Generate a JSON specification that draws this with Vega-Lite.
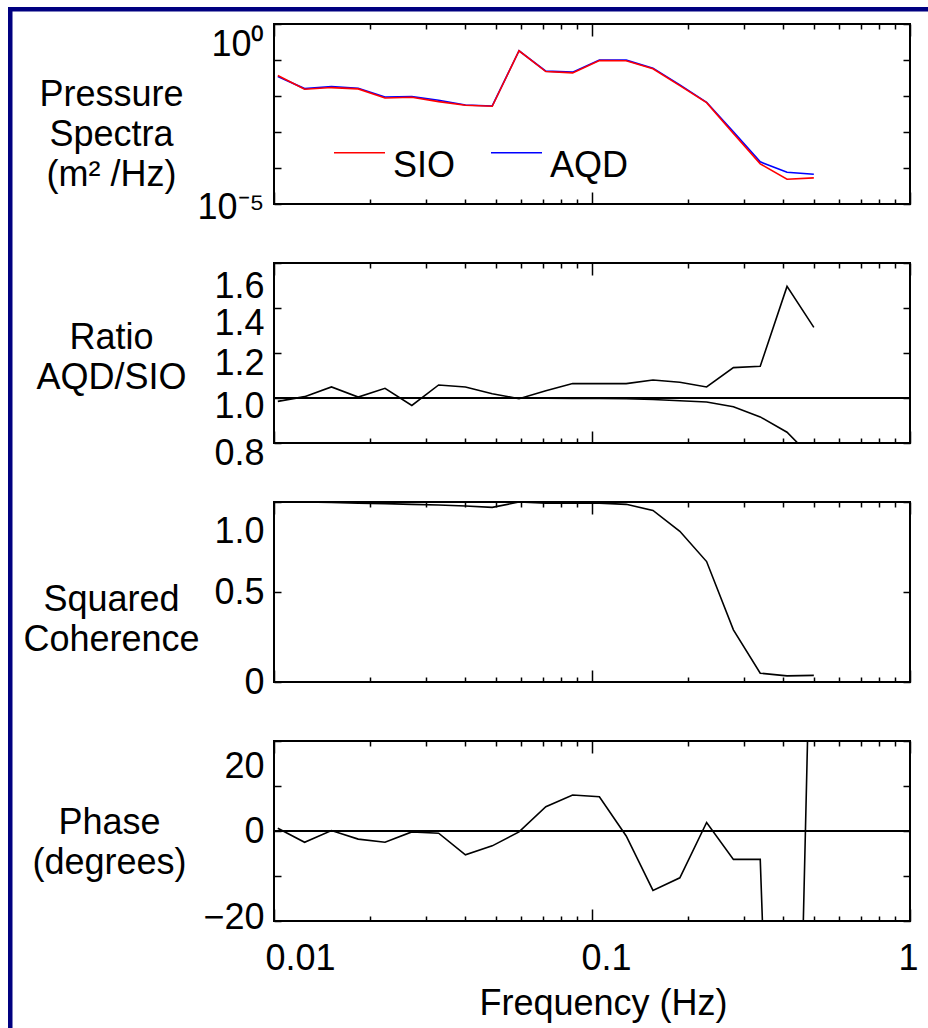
{
  "$schema": "https://vega.github.io/schema/vega-lite/v6.json",
  "padding": {"left": 8, "top": 7, "right": 0, "bottom": 0},
  "background": "white",
  "config": {
    "font": "Liberation Sans",
    "view": {"stroke": "black", "strokeWidth": 2},
    "axis": {
      "domain": false, "grid": false, "tickColor": "black", "tickWidth": 1.5,
      "labelFont": "Liberation Sans", "labelFontSize": 36, "labelColor": "black",
      "titleFont": "Liberation Sans", "titleFontSize": 36, "titleColor": "black", "titleFontWeight": "normal",
      "labelOverlap": false, "labelBound": false, "labelFlush": false
    }
  },
  "datasets": {
    "d": [
      {"f": 0.01028, "SIO": 0.03707, "AQD": 0.03475, "ratio": 0.985, "ref": 1.0, "coh": 1.0, "phase": 0.6},
      {"f": 0.01248, "SIO": 0.01542, "AQD": 0.01607, "ratio": 1.006, "ref": 1.0, "coh": 1.0, "phase": -2.5},
      {"f": 0.01516, "SIO": 0.01714, "AQD": 0.01828, "ratio": 1.049, "ref": 1.0, "coh": 0.998, "phase": 0.1},
      {"f": 0.0184, "SIO": 0.01574, "AQD": 0.01644, "ratio": 1.004, "ref": 1.0, "coh": 0.994, "phase": -1.8},
      {"f": 0.02234, "SIO": 0.008831, "AQD": 0.009419, "ratio": 1.043, "ref": 1.0, "coh": 0.991, "phase": -2.5},
      {"f": 0.02713, "SIO": 0.009226, "AQD": 0.009616, "ratio": 0.967, "ref": 1.0, "coh": 0.987, "phase": -0.2},
      {"f": 0.03294, "SIO": 0.006982, "AQD": 0.007603, "ratio": 1.058, "ref": 1.0, "coh": 0.983, "phase": -0.5},
      {"f": 0.03999, "SIO": 0.005521, "AQD": 0.005636, "ratio": 1.049, "ref": 1.0, "coh": 0.978, "phase": -5.3},
      {"f": 0.04856, "SIO": 0.005176, "AQD": 0.005284, "ratio": 1.019, "ref": 1.0, "coh": 0.97, "phase": -3.3},
      {"f": 0.05896, "SIO": 0.1807, "AQD": 0.1807, "ratio": 0.997, "ref": 1.0, "coh": 1.0, "phase": -0.2},
      {"f": 0.07159, "SIO": 0.04786, "AQD": 0.04898, "ratio": 1.032, "ref": 0.999, "coh": 0.994, "phase": 5.4},
      {"f": 0.08692, "SIO": 0.04395, "AQD": 0.04592, "ratio": 1.064, "ref": 0.998, "coh": 0.994, "phase": 8.0},
      {"f": 0.1055, "SIO": 0.09705, "AQD": 0.09908, "ratio": 1.064, "ref": 0.998, "coh": 0.994, "phase": 7.6},
      {"f": 0.1281, "SIO": 0.09506, "AQD": 0.09908, "ratio": 1.064, "ref": 0.997, "coh": 0.987, "phase": -1.1},
      {"f": 0.1555, "SIO": 0.05689, "AQD": 0.05929, "ratio": 1.08, "ref": 0.993, "coh": 0.953, "phase": -13.2},
      {"f": 0.1889, "SIO": 0.0195, "AQD": 0.02037, "ratio": 1.07, "ref": 0.988, "coh": 0.837, "phase": -10.4},
      {"f": 0.2293, "SIO": 0.006546, "AQD": 0.006683, "ratio": 1.049, "ref": 0.982, "coh": 0.669, "phase": 1.9},
      {"f": 0.2784, "SIO": 0.0009141, "AQD": 0.001016, "ratio": 1.135, "ref": 0.961, "coh": 0.29, "phase": -6.3},
      {"f": 0.3381, "SIO": 0.0001303, "AQD": 0.0001483, "ratio": 1.141, "ref": 0.916, "coh": 0.049, "phase": -6.3},
      {"f": 0.4105, "SIO": 0.00004875, "AQD": 0.00007638, "ratio": 1.496, "ref": 0.848, "coh": 0.034, "phase": -175},
      {"f": 0.4984, "SIO": 0.00005309, "AQD": 0.00006714, "ratio": 1.314, "ref": 0.727, "coh": 0.037, "phase": 80}
    ]
  },
  "vconcat": [
    {
      "width": 916, "height": 0.5,
      "data": {"values": []},
      "mark": "point",
      "view": {"stroke": "#000080", "strokeWidth": 4}
    },
    {
      "hconcat": [
        {
          "width": 0.5, "height": 1016,
          "data": {"values": []},
          "mark": "point",
          "view": {"stroke": "#000080", "strokeWidth": 4}
        },
        {
          "vconcat": [
            {
              "width": 636, "height": 0.5,
              "data": {"values": []},
              "mark": "point",
              "view": {"stroke": null}
            },
            {
              "vconcat": [
                {
                  "width": 636, "height": 180,
                  "data": {"name": "d"},
                  "transform": [{"fold": ["SIO", "AQD"], "as": ["series", "psd"]}],
                  "layer": [
                    {
                      "transform": [{"filter": "datum.series == 'AQD'"}],
                      "mark": {"type": "line", "strokeWidth": 1.6, "clip": true},
                      "encoding": {
                        "x": {"field": "f", "type": "quantitative", "scale": {"type": "log", "domain": [0.01, 1], "nice": false},
                          "axis": {"orient": "bottom", "title": null, "labels": false,
                            "values": [0.01,0.02,0.03,0.04,0.05,0.06,0.07,0.08,0.09,0.1,0.2,0.3,0.4,0.5,0.6,0.7,0.8,0.9,1],
                            "tickSize": {"condition": {"test": "abs(log(datum.value)/LN10 - round(log(datum.value)/LN10)) < 0.001", "value": -12}, "value": -5}}},
                        "y": {"field": "psd", "type": "quantitative", "scale": {"type": "log", "domain": [0.00001, 1], "nice": false},
                          "axis": {"orient": "left", "values": [0.00001, 0.0001, 0.001, 0.01, 0.1, 1], "tickSize": -7, "labelPadding": 17,
                            "labelExpr": "datum.value > 0.5 ? '10⁰' : (datum.value < 0.00002 ? '10⁻⁵' : '')",
                            "labelOffset": {"condition": {"test": "datum.value > 0.5", "value": 20}, "value": 3},
                            "title": ["Pressure", "Spectra", "(m² /Hz)"], "titleAngle": 0, "titleAlign": "center", "titleBaseline": "middle",
                            "titleX": -163, "titleY": 70, "titleLineHeight": 40}},
                        "color": {"field": "series", "type": "nominal", "scale": {"domain": ["SIO", "AQD"], "range": ["#ff0000", "#0000ff"]},
                          "legend": {"orient": "none", "legendX": 59, "legendY": 102, "direction": "horizontal", "title": null,
                            "symbolType": "stroke", "symbolSize": 2601, "symbolStrokeWidth": 1.6, "labelFontSize": 36, "labelFont": "Liberation Sans",
                            "labelColor": "black", "labelOffset": 7, "columnPadding": 31, "padding": 0, "labelBaseline": "middle",
                            "encoding": {"labels": {"dy": {"value": 13}}}}}
                      }
                    },
                    {
                      "transform": [{"filter": "datum.series == 'SIO'"}],
                      "mark": {"type": "line", "strokeWidth": 1.6, "clip": true},
                      "encoding": {
                        "x": {"field": "f", "type": "quantitative", "axis": null},
                        "y": {"field": "psd", "type": "quantitative", "axis": null},
                        "color": {"field": "series", "type": "nominal"}
                      }
                    },
                    {
                      "mark": {"type": "line", "opacity": 0},
                      "encoding": {
                        "x": {"field": "f", "type": "quantitative",
                          "axis": {"orient": "top", "title": null, "labels": false,
                            "values": [0.01,0.02,0.03,0.04,0.05,0.06,0.07,0.08,0.09,0.1,0.2,0.3,0.4,0.5,0.6,0.7,0.8,0.9,1],
                            "tickSize": {"condition": {"test": "abs(log(datum.value)/LN10 - round(log(datum.value)/LN10)) < 0.001", "value": -12}, "value": -5}}},
                        "y": {"field": "psd", "type": "quantitative",
                          "axis": {"orient": "right", "title": null, "labels": false, "values": [0.00001, 0.0001, 0.001, 0.01, 0.1, 1], "tickSize": -7}}
                      }
                    }
                  ],
                  "resolve": {"axis": {"x": "independent", "y": "independent"}}
                },
                {
                  "width": 636, "height": 180,
                  "data": {"name": "d"},
                  "transform": [{"fold": ["ratio", "ref"], "as": ["curve", "val"]}],
                  "layer": [
                    {
                      "mark": {"type": "line", "strokeWidth": 1.6, "color": "black", "clip": true},
                      "encoding": {
                        "x": {"field": "f", "type": "quantitative", "scale": {"type": "log", "domain": [0.01, 1], "nice": false},
                          "axis": {"orient": "bottom", "title": null, "labels": false,
                            "values": [0.01,0.02,0.03,0.04,0.05,0.06,0.07,0.08,0.09,0.1,0.2,0.3,0.4,0.5,0.6,0.7,0.8,0.9,1],
                            "tickSize": {"condition": {"test": "abs(log(datum.value)/LN10 - round(log(datum.value)/LN10)) < 0.001", "value": -12}, "value": -5}}},
                        "y": {"field": "val", "type": "quantitative", "scale": {"domain": [0.8, 1.6], "nice": false, "zero": false},
                          "axis": {"orient": "left", "values": [0.8, 1.0, 1.2, 1.4, 1.6], "format": ".1f", "tickSize": -7, "labelPadding": 17,
                            "labelOffset": {"condition": [
                              {"test": "datum.value > 1.5", "value": 23},
                              {"test": "datum.value > 1.3", "value": 15},
                              {"test": "datum.value > 1.1", "value": 10},
                              {"test": "datum.value > 0.9", "value": 8}], "value": 10},
                            "title": ["Ratio", "AQD/SIO"], "titleAngle": 0, "titleAlign": "center", "titleBaseline": "middle",
                            "titleX": -163, "titleY": 74, "titleLineHeight": 40}},
                        "detail": {"field": "curve", "type": "nominal"}
                      }
                    },
                    {
                      "mark": {"type": "rule", "strokeWidth": 1.6, "color": "black"},
                      "encoding": {
                        "y": {"datum": 1, "axis": null},
                        "x": {"datum": 0.01, "type": "quantitative",
                          "axis": {"orient": "top", "title": null, "labels": false,
                            "values": [0.01,0.02,0.03,0.04,0.05,0.06,0.07,0.08,0.09,0.1,0.2,0.3,0.4,0.5,0.6,0.7,0.8,0.9,1],
                            "tickSize": {"condition": {"test": "abs(log(datum.value)/LN10 - round(log(datum.value)/LN10)) < 0.001", "value": -12}, "value": -5}}},
                        "x2": {"datum": 1}
                      }
                    },
                    {
                      "mark": {"type": "line", "opacity": 0},
                      "encoding": {
                        "x": {"field": "f", "type": "quantitative", "axis": null},
                        "y": {"field": "val", "type": "quantitative",
                          "axis": {"orient": "right", "title": null, "labels": false, "values": [0.8, 1.0, 1.2, 1.4, 1.6], "tickSize": -7}}
                      }
                    }
                  ],
                  "resolve": {"axis": {"x": "independent", "y": "independent"}}
                },
                {
                  "width": 636, "height": 180,
                  "data": {"name": "d"},
                  "layer": [
                    {
                      "mark": {"type": "line", "strokeWidth": 1.6, "color": "black", "clip": true},
                      "encoding": {
                        "x": {"field": "f", "type": "quantitative", "scale": {"type": "log", "domain": [0.01, 1], "nice": false},
                          "axis": {"orient": "bottom", "title": null, "labels": false,
                            "values": [0.01,0.02,0.03,0.04,0.05,0.06,0.07,0.08,0.09,0.1,0.2,0.3,0.4,0.5,0.6,0.7,0.8,0.9,1],
                            "tickSize": {"condition": {"test": "abs(log(datum.value)/LN10 - round(log(datum.value)/LN10)) < 0.001", "value": -12}, "value": -5}}},
                        "y": {"field": "coh", "type": "quantitative", "scale": {"domain": [0, 1], "nice": false},
                          "axis": {"orient": "left", "values": [0, 0.5, 1], "tickSize": -7, "labelPadding": 17,
                            "labelExpr": "datum.value == 0 ? '0' : format(datum.value, '.1f')",
                            "labelOffset": {"condition": {"test": "datum.value > 0.9", "value": 29}, "value": 0},
                            "title": ["Squared", "Coherence"], "titleAngle": 0, "titleAlign": "center", "titleBaseline": "middle",
                            "titleX": -163, "titleY": 97, "titleLineHeight": 40}}
                      }
                    },
                    {
                      "mark": {"type": "line", "opacity": 0},
                      "encoding": {
                        "x": {"field": "f", "type": "quantitative",
                          "axis": {"orient": "top", "title": null, "labels": false,
                            "values": [0.01,0.02,0.03,0.04,0.05,0.06,0.07,0.08,0.09,0.1,0.2,0.3,0.4,0.5,0.6,0.7,0.8,0.9,1],
                            "tickSize": {"condition": {"test": "abs(log(datum.value)/LN10 - round(log(datum.value)/LN10)) < 0.001", "value": -12}, "value": -5}}},
                        "y": {"field": "coh", "type": "quantitative",
                          "axis": {"orient": "right", "title": null, "labels": false, "values": [0, 0.5, 1], "tickSize": -7}}
                      }
                    }
                  ],
                  "resolve": {"axis": {"x": "independent", "y": "independent"}}
                },
                {
                  "width": 636, "height": 180,
                  "data": {"name": "d"},
                  "layer": [
                    {
                      "mark": {"type": "line", "strokeWidth": 1.6, "color": "black", "clip": true},
                      "encoding": {
                        "x": {"field": "f", "type": "quantitative", "scale": {"type": "log", "domain": [0.01, 1], "nice": false},
                          "axis": {"orient": "bottom", "labelPadding": 32,
                            "values": [0.01,0.02,0.03,0.04,0.05,0.06,0.07,0.08,0.09,0.1,0.2,0.3,0.4,0.5,0.6,0.7,0.8,0.9,1],
                            "labelExpr": "datum.value < 0.011 ? '0.01' : (abs(datum.value - 0.1) < 0.001 ? '0.1' : (datum.value > 0.99 ? '1' : ''))",
                            "labelBaseline": "top",
                            "labelOffset": {"condition": [
                              {"test": "datum.value < 0.011", "value": 26},
                              {"test": "abs(datum.value - 0.1) < 0.001", "value": 14}], "value": -2},
                            "tickSize": {"condition": {"test": "abs(log(datum.value)/LN10 - round(log(datum.value)/LN10)) < 0.001", "value": -12}, "value": -5},
                            "title": "Frequency (Hz)", "titleX": 329, "titleY": 82, "titleAlign": "center", "titleBaseline": "middle", "titleAngle": 0}},
                        "y": {"field": "phase", "type": "quantitative", "scale": {"domain": [-20, 20], "nice": false},
                          "axis": {"orient": "left", "values": [-20, -10, 0, 10, 20], "tickSize": -7, "labelPadding": 17,
                            "labelExpr": "datum.value % 20 == 0 ? datum.label : ''",
                            "labelOffset": {"condition": [
                              {"test": "datum.value > 15", "value": 25},
                              {"test": "datum.value < -15", "value": -4}], "value": 0},
                            "title": ["Phase", "(degrees)"], "titleAngle": 0, "titleAlign": "center", "titleBaseline": "middle",
                            "titleX": -165, "titleY": 81, "titleLineHeight": 40}}
                      }
                    },
                    {
                      "mark": {"type": "rule", "strokeWidth": 1.6, "color": "black"},
                      "encoding": {
                        "y": {"datum": 0, "axis": null},
                        "x": {"datum": 0.01, "type": "quantitative",
                          "axis": {"orient": "top", "title": null, "labels": false,
                            "values": [0.01,0.02,0.03,0.04,0.05,0.06,0.07,0.08,0.09,0.1,0.2,0.3,0.4,0.5,0.6,0.7,0.8,0.9,1],
                            "tickSize": {"condition": {"test": "abs(log(datum.value)/LN10 - round(log(datum.value)/LN10)) < 0.001", "value": -12}, "value": -5}}},
                        "x2": {"datum": 1}
                      }
                    },
                    {
                      "mark": {"type": "line", "opacity": 0},
                      "encoding": {
                        "x": {"field": "f", "type": "quantitative", "axis": null},
                        "y": {"field": "phase", "type": "quantitative",
                          "axis": {"orient": "right", "title": null, "labels": false, "values": [-20, -10, 0, 10, 20], "tickSize": -7}}
                      }
                    }
                  ],
                  "resolve": {"axis": {"x": "independent", "y": "independent"}}
                }
              ],
              "spacing": 59,
              "bounds": "flush",
              "resolve": {"scale": {"color": "independent"}, "legend": {"color": "independent"}}
            }
          ],
          "spacing": 13,
          "bounds": "flush"
        }
      ],
      "spacing": 263,
      "bounds": "flush"
    }
  ],
  "spacing": 0,
  "bounds": "flush"
}
